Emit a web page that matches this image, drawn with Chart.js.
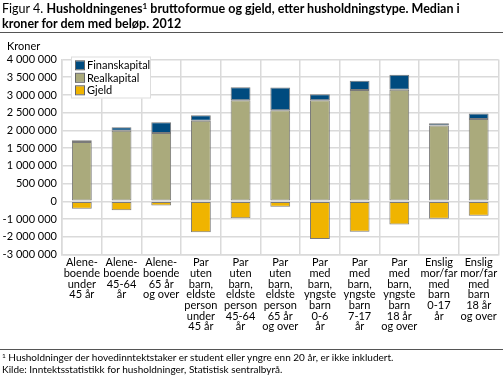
<!DOCTYPE html>
<html>
<head>
<meta charset="utf-8">
<script src="https://cdn.jsdelivr.net/npm/chart.js@4.4.1/dist/chart.umd.min.js"></script>
<style>
  html, body { margin: 0; padding: 0; background: #fff; }
  body { width: 503px; height: 379px; position: relative; overflow: hidden; font-family: Lato, sans-serif; color: #000; }
  #wrap { position: absolute; left: 0; top: 0; width: 503px; height: 379px; }
  .title { position: absolute; left: 2px; top: 1px; font-size: 12.5px; line-height: 15px; white-space: nowrap; }
  .title b { font-weight: bold; }
  .rule { position: absolute; left: 0; width: 503px; height: 1px; background: #555; }
  .kroner { position: absolute; left: 7px; top: 39px; font-size: 11px; }
  .foot { position: absolute; left: 2px; font-size: 10px; white-space: nowrap; }
  sup { font-size: 65%; line-height: 0; vertical-align: 0.5em; }
</style>
</head>
<body>
<div id="wrap"><canvas id="c" width="503" height="379"></canvas></div>
<div class="title">Figur 4. <b>Husholdningenes<sup>1</sup> bruttoformue og gjeld, etter husholdningstype. Median i<br>kroner for dem med beløp. 2012</b></div>
<div class="rule" style="top:32px"></div>
<div class="kroner">Kroner</div>
<div class="rule" style="top:349px"></div>
<div class="foot" style="top:350.5px"><sup>1</sup> Husholdninger der hovedinntektstaker er student eller yngre enn 20 år, er ikke inkludert.</div>
<div class="foot" style="top:362.5px">Kilde: Inntektsstatistikk for husholdninger, Statistisk sentralbyrå.</div>
<script>
// ---- data (kroner, as read against the axis labels) ----
const categories = [
  ["Alene-","boende","under","45 år"],
  ["Alene-","boende","45-64","år"],
  ["Alene-","boende","65 år","og over"],
  ["Par","uten","barn,","eldste","person","under","45 år"],
  ["Par","uten","barn,","eldste","person","45-64","år"],
  ["Par","uten","barn,","eldste","person","65 år","og over"],
  ["Par","med","barn,","yngste","barn","0-6","år"],
  ["Par","med","barn,","yngste","barn","7-17","år"],
  ["Par","med","barn,","yngste","barn","18 år","og over"],
  ["Enslig","mor/far","med","barn","0-17","år"],
  ["Enslig","mor/far","med","barn","18 år","og over"]
];
const finanskapital = [50000, 100000, 300000, 160000, 370000, 640000, 170000, 260000, 420000, 65000, 155000];
const realkapital   = [1670000, 1990000, 1930000, 2270000, 2850000, 2570000, 2850000, 3140000, 3150000, 2140000, 2320000];
const gjeld         = [-420000, -510000, -240000, -1750000, -960000, -300000, -2130000, -1710000, -1310000, -990000, -810000];
const seriesNames = ["Finanskapital", "Realkapital", "Gjeld"];
const seriesColors = ["#004b7f", "#aaaa7c", "#f0b400"];

// The original axis labels the area below zero with 1 000 000 per grid step
// (500 000 per step above zero). Map values to axis positions accordingly.
const toAxis = v => v < 0 ? v / 2 : v;
const fromAxis = v => v < 0 ? v * 2 : v;
const fmt = v => {
  const s = Math.abs(Math.round(v)).toString().replace(/\B(?=(\d{3})+(?!\d))/g, " ");
  return (v < 0 ? "-" : "") + s;
};

const FONT = "Lato, sans-serif";
const gridColor = "#dadada";

const legendPlugin = {
  id: "boxLegend",
  afterDatasetsDraw(chart) {
    const ctx = chart.ctx;
    ctx.save();
    const x = 71, y = 56.5, w = 80, h = 42;
    ctx.fillStyle = "#fff";
    ctx.fillRect(x, y, w, h);
    ctx.strokeStyle = "#dddddd";
    ctx.lineWidth = 1;
    ctx.strokeRect(x + 0.5, y + 0.5, w - 1, h - 1);
    ctx.font = "11px " + FONT;
    ctx.textBaseline = "middle";
    seriesNames.forEach((n, i) => {
      const cy = 65.3 + i * 12.5;
      ctx.fillStyle = seriesColors[i];
      ctx.fillRect(76, cy - 4, 8, 8);
      ctx.strokeStyle = "#666";
      ctx.strokeRect(75.5, cy - 4.5, 9, 9);
      ctx.fillStyle = "#000";
      ctx.fillText(n, 87, cy + 0.5);
    });
    ctx.restore();
  }
};

new Chart(document.getElementById("c"), {
  type: "bar",
  data: {
    labels: categories,
    datasets: [
      { label: seriesNames[1], data: realkapital.map(toAxis), backgroundColor: seriesColors[1] },
      { label: seriesNames[0], data: finanskapital.map(toAxis), backgroundColor: seriesColors[0] },
      { label: seriesNames[2], data: gjeld.map(toAxis), backgroundColor: seriesColors[2] }
    ].map(d => Object.assign(d, {
      borderColor: "#7a7a7a", borderWidth: 1, borderSkipped: false,
      barPercentage: 0.5, categoryPercentage: 1
    }))
  },
  options: {
    responsive: false,
    devicePixelRatio: 1,
    animation: false,
    events: [],
    layout: { autoPadding: false, padding: { top: 59.5, right: 4.5, bottom: 0, left: 0 } },
    plugins: { legend: { display: false }, tooltip: { enabled: false }, title: { display: false } },
    scales: {
      x: {
        stacked: true,
        grid: { color: gridColor, lineWidth: 1.5, drawTicks: false, offset: true },
        border: { color: gridColor, width: 1.5 },
        ticks: { color: "#000", autoSkip: false, maxRotation: 0, padding: 3,
                 font: { family: FONT, size: 11, lineHeight: 0.97 } },
        afterFit: s => { s.height = 379 - 254.5; }
      },
      y: {
        stacked: true,
        min: -1500000, max: 4000000,
        grid: { color: gridColor, lineWidth: 1.5, drawTicks: false },
        border: { color: gridColor, width: 1.5 },
        ticks: { stepSize: 500000, color: "#000", padding: 5,
                 font: { family: FONT, size: 11 },
                 callback: v => fmt(fromAxis(v)) },
        afterFit: s => { s.width = 62; }
      }
    }
  },
  plugins: [legendPlugin]
});
</script>
</body>
</html>
